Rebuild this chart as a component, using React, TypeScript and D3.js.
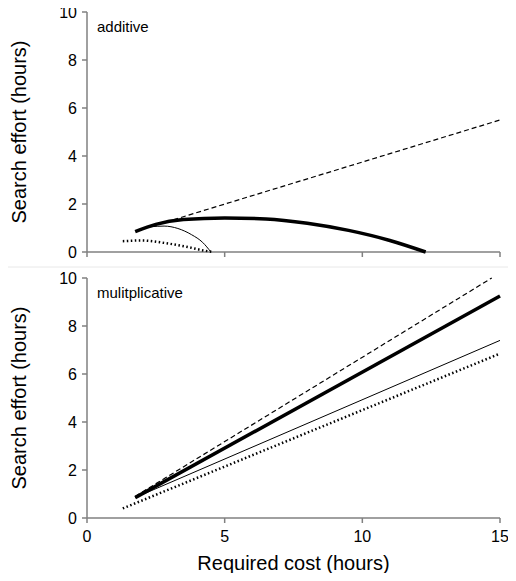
import React from "react";
import * as d3 from "d3";

type Pt = [number, number];

const xTicks = [0, 5, 10, 15];
const yTicks = [0, 2, 4, 6, 8, 10];

// additive panel
const addDashed: Pt[] = [[2.3, 1.05], [15, 5.5]];
const addThick: Pt[] = [[1.75, 0.85], [2.5, 1.15], [3.5, 1.35], [5, 1.42], [6.5, 1.38], [8, 1.2], [9.5, 0.9], [11, 0.48], [12.3, 0]];
const addThin: Pt[] = [[2.3, 1.05], [2.8, 1.08], [3.3, 0.98], [3.8, 0.72], [4.2, 0.4], [4.5, 0]];
const addDotted: Pt[] = [[1.3, 0.45], [2, 0.48], [2.8, 0.38], [3.6, 0.22], [4.3, 0.05], [4.6, 0]];

// multiplicative panel
const mulDashed: Pt[] = [[1.75, 0.9], [14.7, 10]];
const mulThick: Pt[] = [[1.75, 0.85], [15, 9.25]];
const mulThin: Pt[] = [[1.75, 0.85], [15, 7.4]];
const mulDotted: Pt[] = [[1.3, 0.4], [15, 6.85]];

const left = 87, right = 500;
const font = "Arial, 'Liberation Sans', sans-serif";

const x = d3.scaleLinear().domain([0, 15]).range([left, right]);

const Panel = ({ top, label, lines, showX }: { top: number; label: string; lines: { d: Pt[]; w: number; dash?: string }[]; showX: boolean }) => {
  const y = d3.scaleLinear().domain([0, 10]).range([top + 240, top]);
  const line = d3.line<Pt>().x((d) => x(d[0])).y((d) => y(d[1])).curve(d3.curveMonotoneX);
  return (
    <g>
      <line x1={left} x2={left} y1={top} y2={y(0)} stroke="#808080" strokeWidth={1.5} />
      <line x1={left} x2={right} y1={y(0)} y2={y(0)} stroke="#808080" strokeWidth={1.5} />
      {yTicks.map((t) => (
        <g key={t}>
          <line x1={left - 5} x2={left} y1={y(t)} y2={y(t)} stroke="#808080" strokeWidth={1.5} />
          <text x={left - 10} y={y(t)} dy="0.35em" textAnchor="end" fontSize={16} fontFamily={font}>{t}</text>
        </g>
      ))}
      {xTicks.map((t) => (
        <g key={t}>
          <line x1={x(t)} x2={x(t)} y1={y(0)} y2={y(0) + 5} stroke="#808080" strokeWidth={1.5} />
          {showX && <text x={x(t)} y={y(0) + 24} textAnchor="middle" fontSize={16} fontFamily={font}>{t}</text>}
        </g>
      ))}
      <text transform={`translate(26,${top + 120}) rotate(-90)`} textAnchor="middle" fontSize={20} fontFamily={font}>Search effort (hours)</text>
      <text x={97} y={top + 20} fontSize={15} fontFamily={font}>{label}</text>
      {lines.map((l, i) => (
        <path key={i} d={line(l.d) || ""} fill="none" stroke="#000" strokeWidth={l.w} strokeDasharray={l.dash} />
      ))}
    </g>
  );
};

export default function App() {
  return (
    <svg width={516} height={581} style={{ display: "block", margin: "-8px" }}>
      <rect width={516} height={581} fill="#fff" />
      <Panel top={12} label="additive" showX={false} lines={[
        { d: addDashed, w: 1.2, dash: "5,3" },
        { d: addThick, w: 3.5 },
        { d: addThin, w: 1 },
        { d: addDotted, w: 2.5, dash: "1.5,2.5" },
      ]} />
      <line x1={0} x2={516} y1={267} y2={267} stroke="#e8e8e8" />
      <Panel top={278} label="mulitplicative" showX={true} lines={[
        { d: mulDashed, w: 1.2, dash: "5,3" },
        { d: mulThick, w: 3.5 },
        { d: mulThin, w: 1 },
        { d: mulDotted, w: 2.5, dash: "1.5,2.5" },
      ]} />
      <text x={(left + right) / 2} y={570} textAnchor="middle" fontSize={20} fontFamily={font}>Required cost (hours)</text>
    </svg>
  );
}
